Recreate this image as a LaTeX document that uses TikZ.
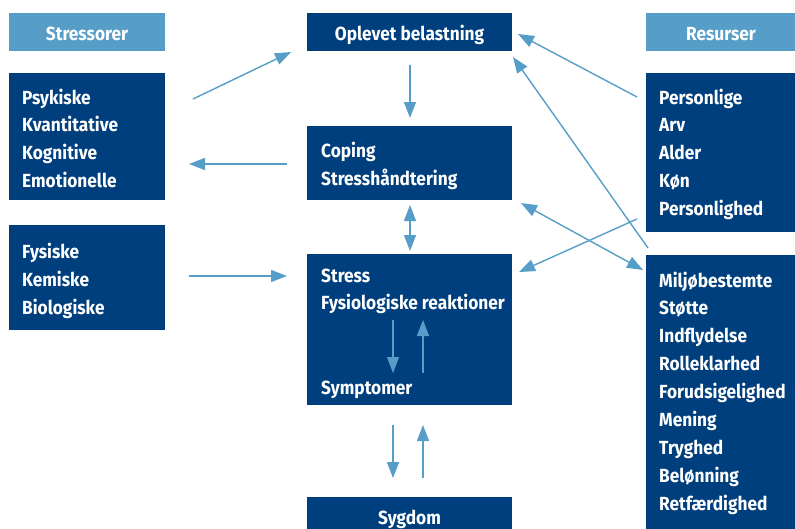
\documentclass[tikz,border=0pt]{standalone}
\usepackage{fontspec}
\setmainfont{Fira Sans}[FakeStretch=0.91]
\usetikzlibrary{arrows.meta}
\definecolor{dblue}{RGB}{0,63,125}
\definecolor{lblue}{RGB}{86,158,199}
\begin{document}
\begin{tikzpicture}[x=1pt,y=-1pt,
  box/.style={fill=dblue, draw=none, inner sep=0pt, outer sep=0pt, anchor=north west},
  hdr/.style={box, fill=lblue},
  txt/.style={text=white, font=\fontsize{19}{22}\selectfont\bfseries, inner sep=0pt, anchor=base west},
  ctxt/.style={txt, anchor=base},
  arr/.style={draw=lblue, line width=1.4pt, -{Triangle[length=16pt,width=12pt]}},
  darr/.style={arr, {Triangle[length=16pt,width=12pt]}-{Triangle[length=16pt,width=12pt]}}]
\useasboundingbox (0,0) rectangle (795,528);
% boxes
\node[hdr, minimum width=156pt, minimum height=38pt] (stre) at (9,13) {};
\node[box, minimum width=156pt, minimum height=127pt] (psy) at (9,73) {};
\node[box, minimum width=156pt, minimum height=105pt] (fys) at (9,225) {};
\node[box, minimum width=205pt, minimum height=38pt] (opl) at (307,13) {};
\node[box, minimum width=205pt, minimum height=74pt] (cop) at (307,126) {};
\node[box, minimum width=205pt, minimum height=151pt] (str) at (307,254) {};
\node[box, minimum width=205pt, minimum height=45pt] (syg) at (307,497) {};
\node[hdr, minimum width=152pt, minimum height=38pt] (res) at (646,13) {};
\node[box, minimum width=152pt, minimum height=159pt] (per) at (646,73) {};
\node[box, minimum width=152pt, minimum height=280pt] (mil) at (646,255) {};
% texts
\node[ctxt] (stret) at (87,40) {Stressorer};
\node[ctxt] (oplt) at (409.5,40) {Oplevet belastning};
\node[ctxt] (rest) at (721,40) {Resurser};
\foreach \w [count=\i from 0] in {Psykiske,Kvantitative,Kognitive,Emotionelle}
  \node[txt] (psy\i) at (22,{104+27.7*\i}) {\w};
\foreach \w [count=\i from 0] in {Fysiske,Kemiske,Biologiske}
  \node[txt] (fys\i) at (22,{258+28*\i}) {\w};
\node[txt] (cop0) at (321,157) {Coping};
\node[txt] (cop1) at (321,185) {Stresshåndtering};
\node[txt] (str0) at (321,282) {Stress};
\node[txt] (str1) at (321,309.5) {Fysiologiske reaktioner};
\node[txt] (str2) at (321,394) {Symptomer};
\node[ctxt] (sygt) at (409.5,524) {Sygdom};
\foreach \w [count=\i from 0] in {Personlige,Arv,Alder,Køn,Personlighed}
  \node[txt] (per\i) at (659,{104+27.8*\i}) {\w};
\foreach \w [count=\i from 0] in {Miljøbestemte,Støtte,Indflydelse,Rolleklarhed,Forudsigelighed,Mening,Tryghed,Belønning,Retfærdighed}
  \node[txt] (mil\i) at (659,{287+27.9*\i}) {\w};
% arrow end points
\coordinate (a1s) at (193,99);  \coordinate (a1e) at (291,52);
\coordinate (a2s) at (287,164); \coordinate (a2e) at (189,164);
\coordinate (a3s) at (189,276); \coordinate (a3e) at (287,276);
\coordinate (a4s) at (410,65);  \coordinate (a4e) at (410,118);
\coordinate (a5s) at (410,205); \coordinate (a5e) at (410,251);
\coordinate (a6s) at (393,320); \coordinate (a6e) at (393,373);
\coordinate (a7s) at (423,373); \coordinate (a7e) at (423,320);
\coordinate (a8s) at (393,425); \coordinate (a8e) at (393,478);
\coordinate (a9s) at (423,478); \coordinate (a9e) at (423,425);
\coordinate (a10s) at (637,97); \coordinate (a10e) at (518,34);
\coordinate (a11s) at (648,248); \coordinate (a11e) at (513,57);
\coordinate (a12s) at (637,219); \coordinate (a12e) at (519,272);
\coordinate (a13s) at (521,203); \coordinate (a13e) at (643,270);
% arrows
\foreach \k in {1,2,3,4,6,7,8,9,10,11,12}
  \draw[arr] (a\k s) -- (a\k e);
\draw[darr] (a5s) -- (a5e);
\draw[darr] (a13s) -- (a13e);
\end{tikzpicture}
\end{document}
